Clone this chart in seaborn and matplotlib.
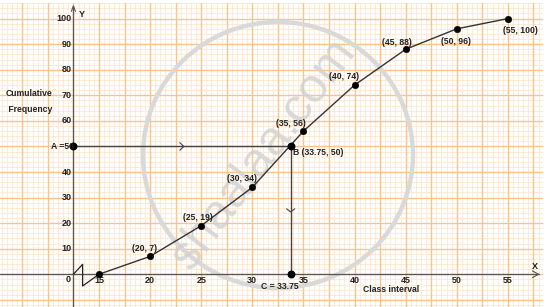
import matplotlib
matplotlib.use("Agg")
import matplotlib.pyplot as plt
import seaborn as sns
import pandas as pd
import numpy as np
from matplotlib.patches import Ellipse

sns.set_style("white")
plt.rcParams['font.family'] = ['Liberation Sans', 'DejaVu Sans']

# data
upper_limits = [15, 20, 25, 30, 35, 40, 45, 50, 55]
cum_freq = [0, 7, 19, 34, 56, 74, 88, 96, 100]
point_labels = ["", "(20, 7)", "(25, 19)", "(30, 34)", "(35, 56)", "(40, 74)",
                "(45, 88)", "(50, 96)", "(55, 100)"]
x_ticks = [15, 20, 25, 30, 35, 40, 45, 50, 55]
y_ticks = [10, 20, 30, 40, 60, 70, 80, 90, 100]  # 50 is shown as "A =50"
median_x = 33.75
half_n = 50

df = pd.DataFrame({"x": upper_limits, "y": cum_freq})

W, H = 554, 307
fig = plt.figure(figsize=(W / 100, H / 100), dpi=100)
ax = fig.add_axes([0, 0, 543 / W, 304 / H])
x0, x1 = 5.32, 58.43
y0, y1 = -12.8, 106.1
ax.set_xlim(x0, x1)
ax.set_ylim(y0, y1)
ax.axis("off")

origin_x = 12.5
major_c = "#fbc48a"
minor_c = "#fde7d0"
txt_c = "#222222"
# graph paper grid
for gx in np.arange(5.5, 58.5, 0.5):
    if abs(gx / 2.5 - round(gx / 2.5)) > 1e-6:
        ax.axvline(gx, color=minor_c, lw=0.6, zorder=0)
for gy in np.arange(-12, 106.1, 2):
    if gy % 10 != 0:
        ax.axhline(gy, color=minor_c, lw=0.6, zorder=0)
for gx in np.arange(7.5, 58.5, 2.5):
    ax.axvline(gx, color=major_c, lw=1.0, zorder=0.5)
for gy in np.arange(-10, 106, 10):
    ax.axhline(gy, color=major_c, lw=1.0, zorder=0.5)

# watermark
ell = Ellipse((origin_x + (278 - 73.4) / 10.225, (274.3 - 155) / 2.557),
              width=2 * 135 / 10.225, height=2 * 133 / 2.557,
              fill=False, ec="#d9d9d9", lw=3.2, zorder=1)
ax.add_patch(ell)
ax.text(origin_x + (264 - 73.4) / 10.225, (274.3 - 154) / 2.557, "shaalaa.com",
        rotation=53, fontsize=35, color="#d0d0d0", ha="center", va="center",
        zorder=1, alpha=0.8)

# axes
ax.plot([x0, 58.0], [0, 0], color="#555555", lw=0.9, zorder=2)
ax.plot([origin_x, origin_x], [y0, 105.0], color="#555555", lw=0.9, zorder=2)
ax.plot([57.4, 58.0, 57.4], [1.3, 0, -1.3], color="#555555", lw=0.8, zorder=2)
ax.plot([12.3, origin_x, 12.7], [102.8, 105.0, 102.8], color="#555555", lw=0.8, zorder=2)
ax.text(57.6, 3.0, "X", fontsize=6.5, fontweight="bold", ha="center", va="center", color=txt_c)
ax.text(13.3, 101.5, "Y", fontsize=6.5, fontweight="bold", ha="center", va="center", color=txt_c)
ax.text(11.94, -2.2, "0", fontsize=6.5, fontweight="bold", ha="center", va="center", color=txt_c)

# axis break zigzag
ax.plot([origin_x, 13.4, 13.4, 15], [0, 3.9, -4.6, 0], color=txt_c, lw=0.9, zorder=3)

# ticks
for t in y_ticks:
    ax.text(12.3, t, str(t), fontsize=6.5, fontweight="bold", ha="right", va="center", color=txt_c)
for t in x_ticks:
    ax.text(t, -2.6, str(t), fontsize=6.5, fontweight="bold", ha="center", va="center", color=txt_c)

ax.text(origin_x - (73.4 - 29) / 10.225, 67.6, "Cumulative\n Frequency", fontsize=6.2,
        fontweight="bold", ha="center", va="center", linespacing=1.9, color=txt_c)
ax.text(origin_x + (391 - 73.4) / 10.225, -6.1, "Class interval", fontsize=6.2,
        fontweight="bold", ha="center", va="center", color=txt_c)

# ogive
sns.lineplot(data=df, x="x", y="y", ax=ax, color="#333333", lw=1.0, zorder=4,
             sort=False, legend=False)
sns.scatterplot(data=df, x="x", y="y", ax=ax, color="black", s=22, zorder=5,
                edgecolor="black", legend=False)

# point labels
offsets = {"(20, 7)": (-0.5, 3.0), "(25, 19)": (-0.3, 3.3), "(30, 34)": (-1.0, 3.3),
           "(35, 56)": (-1.2, 3.0), "(40, 74)": (-1.0, 3.2), "(45, 88)": (-0.9, 2.8),
           "(50, 96)": (-0.1, -5.0), "(55, 100)": (1.2, -4.6)}
for xv, yv, lab in zip(upper_limits, cum_freq, point_labels):
    if lab:
        dx, dy = offsets[lab]
        ax.text(xv + dx, yv + dy, lab, fontsize=6.2, fontweight="bold",
                ha="center", va="center", color=txt_c, zorder=6)

# median construction
ax.plot([origin_x, median_x], [half_n, half_n], color="#444444", lw=1.0, zorder=4)
ax.plot([median_x, median_x], [half_n, 0], color="#444444", lw=1.0, zorder=4)
ax.scatter([origin_x, median_x, median_x], [half_n, half_n, 0], color="black", s=22, zorder=5)
ax.plot([22.9, 23.3, 22.9], [51.5, half_n, 48.5], color="#444444", lw=0.8, zorder=4)
ax.plot([median_x - 0.4, median_x, median_x + 0.4], [25.6, 24.4, 25.6],
        color="#444444", lw=0.8, zorder=4)
ax.text(12.6, half_n, "A =50", fontsize=6.2, fontweight="bold", ha="right", va="center",
        color=txt_c, zorder=6)
ax.text(median_x + 0.2, half_n - 2.4, "B (33.75, 50)", fontsize=6.2, fontweight="bold",
        ha="left", va="center", color=txt_c, zorder=6)
ax.text(origin_x + (279.5 - 73.4) / 10.225, -4.6, "C = 33.75", fontsize=6.2,
        fontweight="bold", ha="center", va="center", color=txt_c, zorder=6)

fig.savefig("out.png", dpi=100)
